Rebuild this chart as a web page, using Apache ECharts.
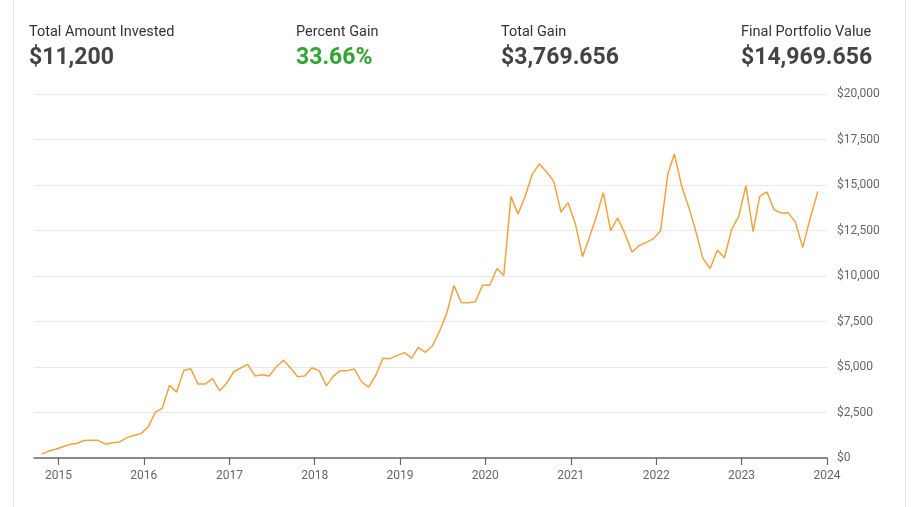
<!DOCTYPE html>
<html>
<head>
<meta charset="utf-8">
<script src="https://cdn.jsdelivr.net/npm/echarts@6/dist/echarts.min.js"></script>
<style>
  html, body { margin: 0; padding: 0; background: #fff; }
  .card { position: absolute; left: 13px; top: 0; width: 891px; height: 507px;
          border-left: 1px solid #e6e6e6; border-right: 1px solid #e6e6e6; }
  #chart { position: absolute; left: 0; top: 0; width: 916px; height: 507px; }
</style>
</head>
<body>
<div class="card"></div>
<div id="chart"></div>
<script>
// monthly portfolio value, Oct 2014 - Nov 2023
const dates = [
  "2014-10-20", "2014-11-20", "2014-12-20",
  "2015-01-20", "2015-02-20", "2015-03-20", "2015-04-20", "2015-05-20", "2015-06-20",
  "2015-07-20", "2015-08-20", "2015-09-20", "2015-10-20", "2015-11-20", "2015-12-20",
  "2016-01-20", "2016-02-20", "2016-03-20", "2016-04-20", "2016-05-20", "2016-06-20",
  "2016-07-20", "2016-08-20", "2016-09-20", "2016-10-20", "2016-11-20", "2016-12-20",
  "2017-01-20", "2017-02-20", "2017-03-20", "2017-04-20", "2017-05-20", "2017-06-20",
  "2017-07-20", "2017-08-20", "2017-09-20", "2017-10-20", "2017-11-20", "2017-12-20",
  "2018-01-20", "2018-02-20", "2018-03-20", "2018-04-20", "2018-05-20", "2018-06-20",
  "2018-07-20", "2018-08-20", "2018-09-20", "2018-10-20", "2018-11-20", "2018-12-20",
  "2019-01-20", "2019-02-20", "2019-03-20", "2019-04-20", "2019-05-20", "2019-06-20",
  "2019-07-20", "2019-08-20", "2019-09-20", "2019-10-20", "2019-11-20", "2019-12-20",
  "2020-01-20", "2020-02-20", "2020-03-20", "2020-04-20", "2020-05-20", "2020-06-20",
  "2020-07-20", "2020-08-20", "2020-09-20", "2020-10-20", "2020-11-20", "2020-12-20",
  "2021-01-20", "2021-02-20", "2021-03-20", "2021-04-20", "2021-05-20", "2021-06-20",
  "2021-07-20", "2021-08-20", "2021-09-20", "2021-10-20", "2021-11-20", "2021-12-20",
  "2022-01-20", "2022-02-20", "2022-03-20", "2022-04-20", "2022-05-20", "2022-06-20",
  "2022-07-20", "2022-08-20", "2022-09-20", "2022-10-20", "2022-11-20", "2022-12-20",
  "2023-01-20", "2023-02-20", "2023-03-20", "2023-04-20", "2023-05-20", "2023-06-20",
  "2023-07-20", "2023-08-20", "2023-09-20", "2023-10-20", "2023-11-24"
];
const values = [
  210, 380, 480,
  620, 750, 800, 960, 970, 970, 760, 840, 880, 1120, 1240, 1340,
  1720, 2520, 2740, 4000, 3620, 4810, 4900, 4060, 4060, 4370, 3700, 4110,
  4740, 4960, 5140, 4510, 4580, 4510, 5000, 5370, 4940, 4460, 4500, 4960,
  4800, 3960, 4470, 4800, 4800, 4890, 4190, 3900, 4560, 5480, 5460, 5640,
  5790, 5490, 6080, 5810, 6170, 6990, 7950, 9480, 8540, 8530, 8590, 9490,
  9490, 10410, 10030, 14360, 13400, 14400, 15600, 16160, 15700, 15200, 13510, 14030,
  12890, 11060, 12070, 13260, 14580, 12490, 13190, 12340, 11320, 11670, 11850, 12050,
  12490, 15600, 16700, 14950, 13810, 12440, 10970, 10410, 11430, 11000, 12560, 13260,
  14960, 12440, 14380, 14620, 13650, 13460, 13480, 12960, 11560, 13080, 14650
];
// summary figures in the header
const statLabels = ["Total Amount Invested", "Percent Gain", "Total Gain", "Final Portfolio Value"];
const statValues = ["$11,200", "33.66%", "$3,769.656", "$14,969.656"];
const statLeft = [29, 296, 501, 741];
const statColor = ["#444", "#33a532", "#444", "#444"];

(function () {
  var myChart = echarts.init(document.getElementById("chart"));
  const font = "Roboto, 'Noto Sans', sans-serif";

  // title has 5px padding, so pull it back
  const titles = statLabels.map((label, i) => ({
    text: label,
    subtext: statValues[i],
    left: statLeft[i] - 5,
    top: 20,
    itemGap: 7,
    textStyle: { fontFamily: font, fontSize: 14.5, fontWeight: "normal", color: "#333" },
    subtextStyle: { fontFamily: font, fontSize: 23, fontWeight: "bold", color: statColor[i] },
  }));

  var option = {
    animation: false,
    title: titles,
    grid: { left: 34, right: 89, top: 94, bottom: 49 },
    tooltip: { trigger: "axis" },
    xAxis: {
      type: "time",
      min: "2014-09-18",
      max: "2024-01-02",
      splitNumber: 10,
      minInterval: 365 * 24 * 3600 * 1000,
      axisLine: { lineStyle: { color: "#666", width: 1.5 } },
      axisTick: { show: true, length: 7, lineStyle: { color: "#666", width: 1.2 } },
      axisLabel: {
        formatter: "{yyyy}",
        color: "#666",
        fontFamily: font,
        fontSize: 12,
        margin: 12,
        showMaxLabel: true,
      },
      splitLine: { show: false },
    },
    yAxis: {
      type: "value",
      position: "right",
      min: 0,
      max: 20000,
      interval: 2500,
      axisLine: { show: false },
      axisTick: { show: false },
      axisLabel: {
        color: "#666",
        fontFamily: font,
        fontSize: 12,
        margin: 10,
        formatter: (v) => "$" + v.toLocaleString("en-US"),
      },
      splitLine: { lineStyle: { color: "#e8e8e8", width: 1 } },
    },
    series: [
      {
        name: "Portfolio Value",
        type: "line",
        data: dates.map((d, i) => [d, values[i]]),
        showSymbol: false,
        symbol: "none",
        lineStyle: { color: "#f0a23f", width: 1.5 },
        itemStyle: { color: "#f0a23f" },
      },
    ],
  };

  myChart.setOption(option);
  window.addEventListener("resize", function () {
    myChart.resize();
  });
})();
</script>
</body>
</html>
